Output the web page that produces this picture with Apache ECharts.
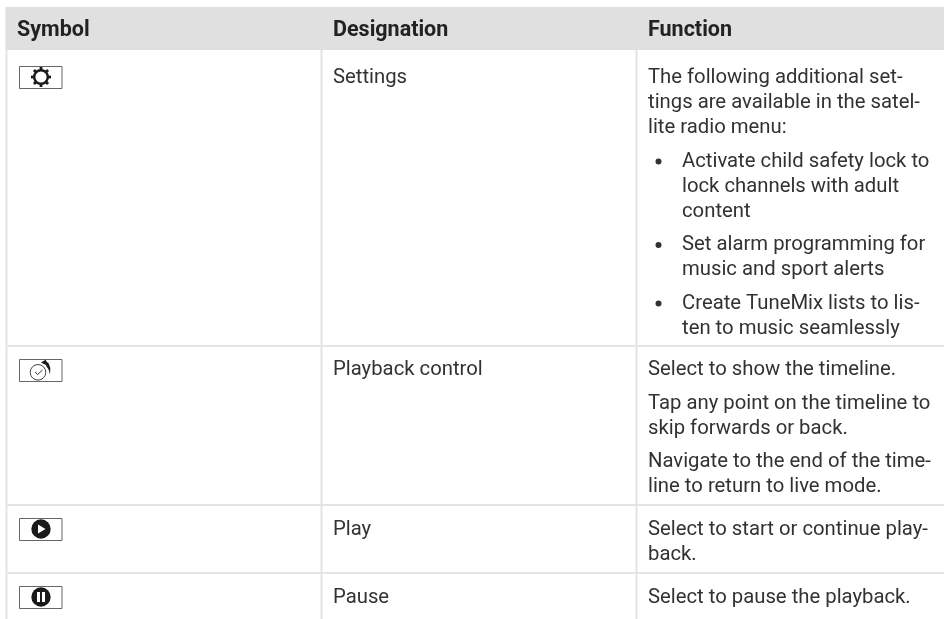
<!DOCTYPE html>
<html>
<head>
<meta charset="utf-8">
<style>
html, body { margin: 0; padding: 0; background: #fff; }
#main { width: 944px; height: 619px; }
</style>
<script src="https://cdn.jsdelivr.net/npm/echarts@6/dist/echarts.min.js"></script>
</head>
<body>
<div id="main"></div>
<script>
var headers = ['Symbol', 'Designation', 'Function'];
var symbols = ['gear', 'clock', 'play', 'pause'];
var designations = ['Settings', 'Playback control', 'Play', 'Pause'];
// each row: list of paragraphs, a paragraph is a list of lines
var settingsText = [
    ['The following additional set-', 'tings are available in the satel-', 'lite radio menu:'],
    ['Activate child safety lock to', 'lock channels with adult', 'content'],
    ['Set alarm programming for', 'music and sport alerts'],
    ['Create TuneMix lists to lis-', 'ten to music seamlessly']
];
var playbackText = [
    ['Select to show the timeline.'],
    ['Tap any point on the timeline to', 'skip forwards or back.'],
    ['Navigate to the end of the time-', 'line to return to live mode.']
];
var playText = [['Select to start or continue play-', 'back.']];
var pauseText = [['Select to pause the playback.']];
var functionText = [settingsText, playbackText, playText, pauseText];
var bulletParas = [[1, 2, 3], [], [], []];

var rowTops = [50, 346, 505, 573];
var firstLine = [78, 370, 530, 598];
var colX = [17, 333, 648];
var bodyFont = 'Roboto';
var inkDark = '#333231', lineGrey = '#e4e4e4';
var els = [];

function addText(x, y, s, bold) {
    els.push({
        type: 'text', x: x, y: y,
        style: {
            text: s, fill: bold ? '#232221' : inkDark, align: 'left', verticalAlign: 'middle',
            font: bold ? 'bold 21.5px ' + bodyFont : '20.3px ' + bodyFont
        }
    });
}
function addLine(x1, y1, x2, y2, w, c) {
    els.push({ type: 'line', shape: { x1: x1, y1: y1, x2: x2, y2: y2 }, style: { stroke: c || lineGrey, lineWidth: w } });
}
function addDisc(cx, cy, r, c) {
    els.push({ type: 'circle', shape: { cx: cx, cy: cy, r: r }, style: { fill: c } });
}

function drawIcon(name, top) {
    var cy = top + 11, cx = 41;
    els.push({ type: 'rect', shape: { x: 19.5, y: top + 0.5, width: 42.5, height: 22 }, style: { fill: '#fff', stroke: '#666', lineWidth: 1 } });
    if (name === 'gear') {
        for (var i = 0; i < 8; i++) {
            els.push({
                type: 'rect', x: cx, y: cy, rotation: i * Math.PI / 4,
                shape: { x: -1.4, y: -10, width: 2.8, height: 4 }, style: { fill: '#1a1a1a' }
            });
        }
        els.push({ type: 'circle', shape: { cx: cx, cy: cy, r: 6.8 }, style: { fill: '#fff', stroke: '#1a1a1a', lineWidth: 2.4 } });
    } else if (name === 'clock') {
        els.push({ type: 'circle', shape: { cx: 38, cy: top + 13.3, r: 7.8 }, style: { fill: '#fff', stroke: '#444', lineWidth: 1 } });
        els.push({ type: 'polyline', shape: { points: [[35, top + 13], [37.7, top + 15.5], [42.5, top + 11]] }, style: { fill: 'none', stroke: '#333', lineWidth: 1 } });
        els.push({
            type: 'polygon',
            shape: { points: [[41, top + 3.5], [46, top + 0.5], [46, top + 2], [48.7, top + 4.5], [50.3, top + 9], [50, top + 15.5], [48.6, top + 10.5], [46.6, top + 7.5], [46, top + 6]] },
            style: { fill: '#1a1a1a' }
        });
    } else if (name === 'play') {
        addDisc(cx, cy, 9.7, '#1a1a1a');
        els.push({ type: 'polygon', shape: { points: [[38, cy - 4.5], [38, cy + 4.5], [45.5, cy]] }, style: { fill: '#fff' } });
    } else {
        addDisc(cx, cy, 9.7, '#1a1a1a');
        els.push({ type: 'rect', shape: { x: 37, y: cy - 5, width: 3, height: 10 }, style: { fill: '#fff' } });
        els.push({ type: 'rect', shape: { x: 42, y: cy - 5, width: 3, height: 10 }, style: { fill: '#fff' } });
    }
}

// grid
els.push({ type: 'rect', shape: { x: 5.5, y: 7, width: 938.5, height: 43 }, style: { fill: '#e0e0e0' } });
addLine(6.5, 50, 6.5, 619, 2);
addLine(321.5, 50, 321.5, 619, 2);
addLine(636.5, 50, 636.5, 619, 2);
rowTops.slice(1).forEach(function (y) { addLine(7, y, 944, y, 2); });

headers.forEach(function (h, i) { addText(colX[i], 31, h, true); });

var iconTops = [66, 359, 518, 586];
symbols.forEach(function (s, i) { drawIcon(s, iconTops[i]); });
designations.forEach(function (d, i) { addText(colX[1], firstLine[i], d); });

functionText.forEach(function (paras, r) {
    var y = firstLine[r];
    paras.forEach(function (para, p) {
        var bullet = bulletParas[r].indexOf(p) >= 0;
        if (bullet) addDisc(658.5, y, 3, inkDark);
        para.forEach(function (ln) {
            addText(bullet ? 682 : colX[2], y, ln);
            y += 25;
        });
        y += 8.5;
    });
});

var chart = echarts.init(document.getElementById('main'), null, { renderer: 'canvas' });
chart.setOption({ animation: false, backgroundColor: '#fff', graphic: { elements: els } });
</script>
</body>
</html>
